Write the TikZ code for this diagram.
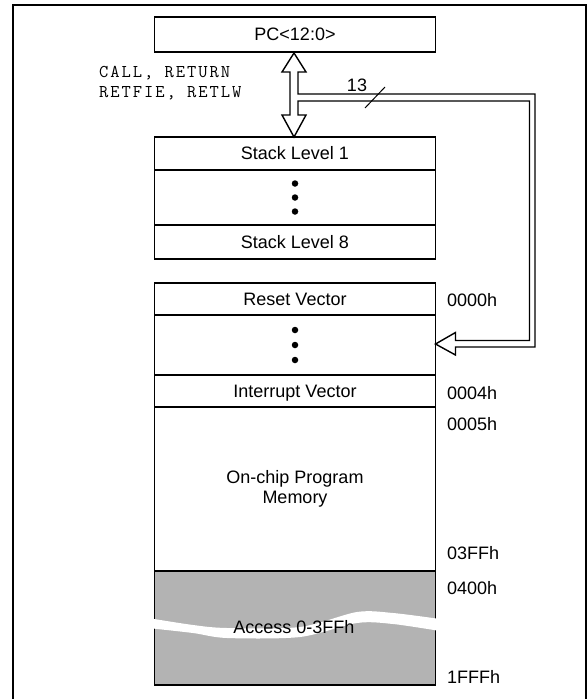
\documentclass[tikz,border=0pt]{standalone}
\usepackage{fontspec}
\setmainfont{Liberation Sans}
\newfontfamily\courfont[LetterSpace=11]{Latin Modern Mono}
\usetikzlibrary{calc}
\begin{document}
\begin{tikzpicture}[x=1pt,y=-1pt,
  txt/.style={font=\fontsize{18}{20}\selectfont, text height=12.9pt, text depth=0pt, inner sep=0pt},
  cell/.style={txt, draw, line width=1.8pt, minimum width=281pt, anchor=north, fill=white, outer sep=0pt},
  addr/.style={txt, anchor=west},
  mono/.style={font=\fontsize{18}{20}\selectfont\courfont, anchor=west, inner sep=0pt},
  bus/.style={draw, line width=1.4pt, fill=white, line join=miter},
  dot/.style={circle, fill=black, inner sep=0pt, minimum size=6.5pt}
]
\useasboundingbox (0,0) rectangle (588,699);
% frame (open at bottom)
\draw[line width=2.2pt] (13,699) -- (13,5) -- (586,5) -- (586,699);

% PC box
\node[cell, minimum height=35pt] (pc) at (295,17) {PC<12:0>};

% stack
\node[cell, minimum height=33pt] (s1) at (295,137) {Stack Level 1};
\node[cell, minimum height=55pt] (sd) at (s1.south) {};
\node[cell, minimum height=34pt] (s8) at (sd.south) {Stack Level 8};
\node[dot] (d1) at ($(sd.center)+(0,-14)$) {};
\node[dot] (d2) at (sd.center) {};
\node[dot] (d3) at ($(sd.center)+(0,14)$) {};

% program memory
\node[cell, minimum height=32pt] (rv) at (295,283) {Reset Vector};
\node[cell, minimum height=60pt] (rd) at (rv.south) {};
\node[dot] (e1) at ($(rd.center)+(0,-15)$) {};
\node[dot] (e2) at (rd.center) {};
\node[dot] (e3) at ($(rd.center)+(0,15)$) {};
\node[cell, minimum height=32pt] (iv) at (rd.south) {Interrupt Vector};
\node[cell, minimum height=164pt, align=center, text height=, text depth=] (pm) at (iv.south) {On-chip Program\\Memory};
\node[cell, minimum height=114pt, fill={rgb,255:red,179;green,179;blue,179}] (ac) at (pm.south) {};

% break band
\path[fill=white] plot[smooth] coordinates {(148,618) (193,625) (227,628) (300,627) (357,612) (393,613) (440,619)}
  -- plot[smooth] coordinates {(440,631) (393,624) (357,623) (300,637) (227,638) (193,633) (148,628)} -- cycle;
\node[txt] (acc) at (294,627) {Access 0-3FFh};

% addresses
\node[addr] (a0) at (447,300) {0000h};
\node[addr] (a4) at (447,393) {0004h};
\node[addr] (a5) at (447,424) {0005h};
\node[addr] (a3ff) at (447,553) {03FFh};
\node[addr] (a400) at (447,588) {0400h};
\node[addr] (a1fff) at (447,677) {1FFFh};

% instruction labels
\node[mono] (call) at (99,73) {CALL, RETURN};
\node[mono] (ret) at (99,93) {RETFIE, RETLW};

% double arrow + 13-bit bus to the program memory
\coordinate (top) at ($(pc.south)+(-1,1)$);
\coordinate (bot) at ($(s1.north)+(-1,0)$);
\coordinate (tip) at ($(rd.east)+(0,-1)$);
\draw[bus] (top) -- ++(12,19) -- ++(-8,0) -- ++(0,22) -- ++(237,0)
  |- ($(tip)+(20,3)$) -- ++(0,8) -- (tip) -- ++(20,-11.5) -- ++(0,8) -- ++(74,0)
  |- ($(top)+(4,48)$) -- ($(bot)+(4,-22)$) -- ++(8,0) -- (bot) -- ++(-12,-22) -- ++(8,0)
  -- ($(top)+(-4,19)$) -- ++(-8,0) -- cycle;
\node[txt] (n13) at (357,85) {13};
\coordinate (sl1) at (365,108);
\coordinate (sl2) at (385,87);
\draw[line width=1pt] (sl1) -- (sl2);
\end{tikzpicture}
\end{document}
